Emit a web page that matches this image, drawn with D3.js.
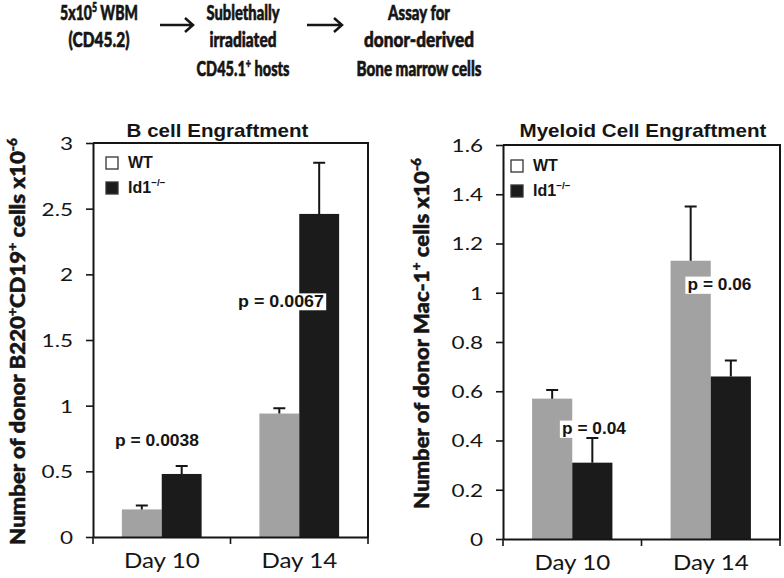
<!DOCTYPE html>
<html><head><meta charset="utf-8">
<script src="https://cdn.jsdelivr.net/npm/d3@7"></script>
<style>body{margin:0;background:#fff}</style>
</head><body><svg id="c" width="784" height="578"></svg>
<script>
// ---------- data ----------
const days = ["Day 10", "Day 14"];
const genotypes = ["WT", "Id1"];
const bWT = [0.21, 0.94];
const bWTerr = [0.03, 0.04];
const bKO = [0.48, 2.46];
const bKOerr = [0.06, 0.39];
const mWT = [0.57, 1.13];
const mWTerr = [0.035, 0.22];
const mKO = [0.31, 0.66];
const mKOerr = [0.10, 0.065];
const bTicks = [0, 0.5, 1, 1.5, 2, 2.5, 3];
const mTicks = [0, 0.2, 0.4, 0.6, 0.8, 1, 1.2, 1.4, 1.6];
const bP = ["p = 0.0038", "p = 0.0067"];
const mP = ["p = 0.04", "p = 0.06"];

// ---------- helpers ----------
const svg = d3.select("#c");
const INK = "#151515";
function label(parent, parts, o) {
  const g = parent.append("g");
  const t = g.append("text")
    .attr("font-family", o.font).attr("font-size", o.size)
    .attr("font-weight", o.weight || 400).attr("fill", o.fill || INK)
    .attr("text-anchor", o.anchor || "start");
  if (o.stroke) t.attr("stroke", o.fill || INK).attr("stroke-width", o.stroke);
  let sup = false;
  const r = 0.42;
  parts.forEach(p => {
    const s = Array.isArray(p) ? p[0] : p, isSup = Array.isArray(p) ? !!p[1] : false;
    const ts = t.append("tspan").text(s);
    if (isSup) ts.attr("font-size", o.size * 0.62);
    if (isSup && !sup) ts.attr("dy", -o.size * r);
    if (!isSup && sup) ts.attr("dy", o.size * r);
    sup = isSup;
  });
  let sx = o.sx || 1;
  if (o.w) sx = o.w / t.node().getComputedTextLength();
  g.attr("transform", `translate(${o.x},${o.y})` + (o.rot ? ` rotate(${o.rot})` : "") + ` scale(${sx},1)`);
  return { g, t };
}

// ---------- flow chart header ----------
const flow = [
  { cx: 99, lines: [[["5x10"], ["5", 1], [" WBM"]], [["(CD45.2)"]]], w: [78, 61] },
  { cx: 243, lines: [[["Sublethally"]], [["irradiated"]], [["CD45.1"], ["+", 1], [" hosts"]]], w: [73, 67, 93] },
  { cx: 419, lines: [[["Assay for"]], [["donor-derived"]], [["Bone marrow cells"]]], w: [62, 110, 125] }
];
const flowBase = [20, 47, 76];
flow.forEach(f => f.lines.forEach((ln, i) => {
  label(svg, ln.map(p => p.length > 1 ? [p[0], true] : p[0]), {
    x: f.cx, y: flowBase[i], font: "Lato", size: 20, weight: 900, anchor: "middle", w: f.w[i], stroke: 0.6
  });
}));
[[160, 193], [307, 342]].forEach(([a, b]) => {
  const p = d3.path();
  p.moveTo(a, 25); p.lineTo(b, 25);
  p.moveTo(b - 8, 18); p.lineTo(b, 25); p.lineTo(b - 8, 32);
  svg.append("path").attr("d", p.toString()).attr("fill", "none")
    .attr("stroke", INK).attr("stroke-width", 2.5);
});

// ---------- panels ----------
function panel(o) {
  const g = svg.append("g");
  const x = d3.scaleBand().domain(days).range([o.x0, o.x1]);
  const bw = x.bandwidth();
  const xi = d3.scaleBand().domain(genotypes).range([bw * 0.21, bw * 0.79]);
  const y = d3.scaleLinear().domain([0, o.max]).range([o.y0, o.y1]);
  const series = [
    { key: "WT", vals: o.wt, err: o.wtErr, color: "#a2a2a2" },
    { key: "Id1", vals: o.ko, err: o.koErr, color: "#1b1b1b" }
  ];
  // bars
  series.forEach(s => {
    g.selectAll(null).data(days).enter().append("rect")
      .attr("x", d => x(d) + xi(s.key)).attr("width", xi.bandwidth())
      .attr("y", (d, i) => y(s.vals[i])).attr("height", (d, i) => y(0) - y(s.vals[i]))
      .attr("fill", s.color);
  });
  // y axis
  const ya = g.append("g").attr("transform", `translate(${o.x0},0)`)
    .call(d3.axisLeft(y).tickValues(o.ticks).tickSize(7).tickSizeOuter(0).tickFormat(d3.format("~g")));
  ya.select(".domain").attr("stroke", INK).attr("stroke-width", 2);
  ya.selectAll(".tick line").attr("stroke", INK).attr("stroke-width", 1.6);
  ya.selectAll(".tick text").attr("x", 0).attr("dy", "0.36em")
    .attr("transform", `translate(-20,0) scale(1.25,1)`)
    .attr("font-family", "Lato").attr("font-size", 18).attr("fill", INK);
  // x axis
  const xa = g.append("g").attr("transform", `translate(0,${o.y0})`)
    .call(d3.axisBottom(x).tickSize(0).tickSizeOuter(0));
  xa.select(".domain").attr("stroke", INK).attr("stroke-width", 2);
  xa.selectAll(".tick text").attr("y", 0).attr("dy", 0)
    .attr("transform", `translate(0,31) scale(1.15,1)`)
    .attr("font-family", "Lato").attr("font-size", 21).attr("fill", INK);
  const bounds = days.map(d => x(d)).concat([x.range()[1]]);
  g.selectAll(null).data(bounds).enter().append("line")
    .attr("x1", d => d).attr("x2", d => d).attr("y1", o.y0).attr("y2", o.y0 + 7)
    .attr("stroke", INK).attr("stroke-width", 1.6);
  // frame
  g.append("path").attr("d", `M${o.x0},${y(o.max)}H${o.x1}V${o.y0}`)
    .attr("fill", "none").attr("stroke", INK).attr("stroke-width", 2);
  // p-values with white boxes
  o.p.forEach((s, i) => {
    const L = label(g, [s], { x: o.pPos[i][0], y: o.pPos[i][1], font: "Liberation Sans", size: 16, weight: 700, anchor: "middle", w: o.pW[i] });
    const bb = L.t.node().getBBox();
    L.g.insert("rect", "text").attr("x", bb.x - 2).attr("y", bb.y + 1).attr("width", bb.width + 4).attr("height", bb.height - 1).attr("fill", "#fff");
  });
  // error bars
  series.forEach(s => {
    const cx = d => x(d) + xi(s.key) + xi.bandwidth() / 2;
    g.selectAll(null).data(days).enter().append("path")
      .attr("d", (d, i) => `M${cx(d)},${y(s.vals[i])}V${y(s.vals[i] + s.err[i])}M${cx(d) - 6},${y(s.vals[i] + s.err[i])}H${cx(d) + 6}`)
      .attr("fill", "none").attr("stroke", INK).attr("stroke-width", 2);
  });
  // title
  label(g, [o.title], { x: o.titleX, y: 137, font: "Liberation Sans", size: 18, weight: 700, anchor: "middle", w: o.titleW });
  // y label
  label(g, o.ylab, { x: o.ylabX, y: o.ylabY, rot: -90, font: "Lato", size: 20, weight: 900, anchor: "middle", w: o.ylabW, stroke: 0.5 });
  // legend
  series.forEach((s, i) => {
    g.append("rect").attr("x", o.legX).attr("y", o.legY[i]).attr("width", 12).attr("height", 12)
      .attr("fill", i === 0 ? "#fff" : s.color).attr("stroke", "#333").attr("stroke-width", 1.3);
    label(g, i === 0 ? ["WT"] : ["Id1", ["−/−", 1]], { x: o.legX + 22, y: o.legY[i] + 11, font: "Liberation Sans", size: 16, weight: 700 });
  });
}

panel({
  x0: 93, x1: 368, y0: 537, y1: 143, max: 3, ticks: bTicks,
  wt: bWT, wtErr: bWTerr, ko: bKO, koErr: bKOerr,
  p: bP, pPos: [[157, 446], [281, 306.5]], pW: [84, 86],
  title: "B cell Engraftment", titleX: 217.5, titleW: 182,
  ylab: ["Number of donor B220", ["+", 1], "CD19", ["+", 1], " cells x10", ["-6", 1]],
  ylabX: 25, ylabY: 341.5, ylabW: 407,
  legX: 106, legY: [157, 182]
});
panel({
  x0: 503, x1: 780, y0: 539, y1: 145, max: 1.6, ticks: mTicks,
  wt: mWT, wtErr: mWTerr, ko: mKO, koErr: mKOerr,
  p: mP, pPos: [[594, 434], [719.5, 290]], pW: [64, 64],
  title: "Myeloid Cell Engraftment", titleX: 643, titleW: 247,
  ylab: ["Number of donor Mac-1", ["+", 1], " cells x10", ["-6", 1]],
  ylabX: 429, ylabY: 333.5, ylabW: 351,
  legX: 511, legY: [160, 185]
});
</script></body></html>
